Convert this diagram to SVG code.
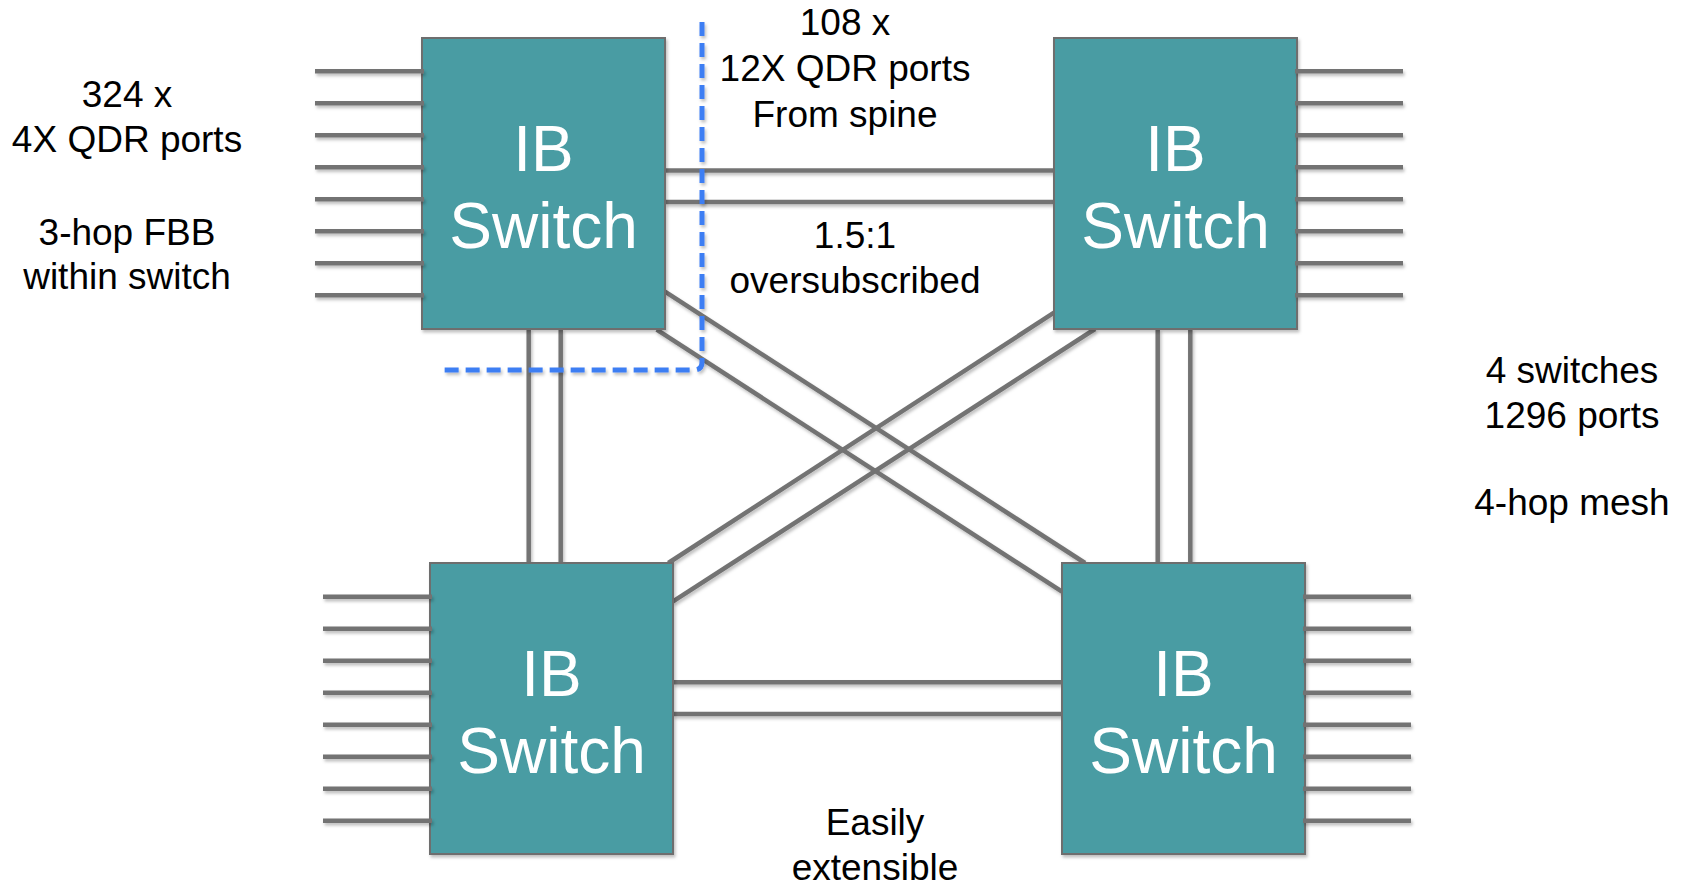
<svg xmlns="http://www.w3.org/2000/svg" width="1683" height="885" viewBox="0 0 1683 885">
<style>
.box{fill:#499ca3;stroke:#6e6e6e;stroke-width:2}
.lbl{font-family:"Liberation Sans",Arial,sans-serif;font-size:64px;fill:#ffffff;text-anchor:middle}
.txt{font-family:"Liberation Sans",Arial,sans-serif;font-size:37px;fill:#000000;text-anchor:middle}
.ln{stroke:#737373;stroke-width:4.5;fill:none}
.dash{stroke:#3d7ef3;stroke-width:5;fill:none;stroke-dasharray:14 7}
</style>
<defs>
<filter id="sh" x="-10%" y="-10%" width="130%" height="130%">
<feDropShadow dx="1.5" dy="2.5" stdDeviation="1.5" flood-color="#000" flood-opacity="0.25"/>
</filter>
</defs>
<rect width="1683" height="885" fill="#ffffff"/>
<g id="connectors" filter="url(#sh)">
<g id="links">
<line class="ln" x1="665" y1="170.5" x2="1054" y2="170.5"/>
<line class="ln" x1="665" y1="202" x2="1054" y2="202"/>
<line class="ln" x1="673" y1="682.3" x2="1062" y2="682.3"/>
<line class="ln" x1="673" y1="714" x2="1062" y2="714"/>
<line class="ln" x1="528.7" y1="329" x2="528.7" y2="563"/>
<line class="ln" x1="560.7" y1="329" x2="560.7" y2="563"/>
<line class="ln" x1="1157.7" y1="329" x2="1157.7" y2="563"/>
<line class="ln" x1="1190.3" y1="329" x2="1190.3" y2="563"/>
<line class="ln" x1="665" y1="291.7" x2="1085" y2="563"/>
<line class="ln" x1="656.7" y1="329.7" x2="1062" y2="591.7"/>
<line class="ln" x1="1054" y1="312.7" x2="668.3" y2="563"/>
<line class="ln" x1="1095" y1="329" x2="672.7" y2="601.7"/>
</g>
</g>
<g id="sw-tl" filter="url(#sh)">
<rect class="box" x="422" y="38" width="243" height="291"/>
<text class="lbl" x="543.5" y="170.7">IB</text>
<text class="lbl" x="543.5" y="248.3">Switch</text>
</g>
<g id="sw-tr" filter="url(#sh)">
<rect class="box" x="1054" y="38" width="243" height="291"/>
<text class="lbl" x="1175.5" y="170.7">IB</text>
<text class="lbl" x="1175.5" y="248.3">Switch</text>
</g>
<g id="sw-bl" filter="url(#sh)">
<rect class="box" x="430" y="563" width="243" height="291"/>
<text class="lbl" x="551.5" y="695.7">IB</text>
<text class="lbl" x="551.5" y="772.7">Switch</text>
</g>
<g id="sw-br" filter="url(#sh)">
<rect class="box" x="1062" y="563" width="243" height="291"/>
<text class="lbl" x="1183.5" y="695.7">IB</text>
<text class="lbl" x="1183.5" y="772.7">Switch</text>
</g>
<g id="ports" filter="url(#sh)">
<path class="ln" d="M315 71.3H424M315 103.3H424M315 135.3H424M315 167.3H424M315 199.3H424M315 231.3H424M315 263.3H424M315 295.3H424"/>
<path class="ln" d="M1295 71.3H1403M1295 103.3H1403M1295 135.3H1403M1295 167.3H1403M1295 199.3H1403M1295 231.3H1403M1295 263.3H1403M1295 295.3H1403"/>
<path class="ln" d="M323 596.7H432M323 628.7H432M323 660.7H432M323 692.7H432M323 724.7H432M323 756.7H432M323 788.7H432M323 820.7H432"/>
<path class="ln" d="M1303 596.7H1411M1303 628.7H1411M1303 660.7H1411M1303 692.7H1411M1303 724.7H1411M1303 756.7H1411M1303 788.7H1411M1303 820.7H1411"/>
</g>
<g id="boundary" filter="url(#sh)">
<path class="dash" d="M702 22V362Q702 370 694 370H442"/>
</g>
<g id="labels">
<text class="txt" x="127" y="106.7">324 x</text>
<text class="txt" x="127" y="151.7">4X QDR ports</text>
<text class="txt" x="127" y="245">3-hop FBB</text>
<text class="txt" x="127" y="289.3">within switch</text>
<text class="txt" x="845" y="35">108 x</text>
<text class="txt" x="845" y="81">12X QDR ports</text>
<text class="txt" x="845" y="126.7">From spine</text>
<text class="txt" x="855" y="248.3">1.5:1</text>
<text class="txt" x="855" y="293.3">oversubscribed</text>
<text class="txt" x="1572" y="383.3">4 switches</text>
<text class="txt" x="1572" y="428.3">1296 ports</text>
<text class="txt" x="1572" y="515">4-hop mesh</text>
<text class="txt" x="875" y="835">Easily</text>
<text class="txt" x="875" y="880">extensible</text>
</g>
</svg>
